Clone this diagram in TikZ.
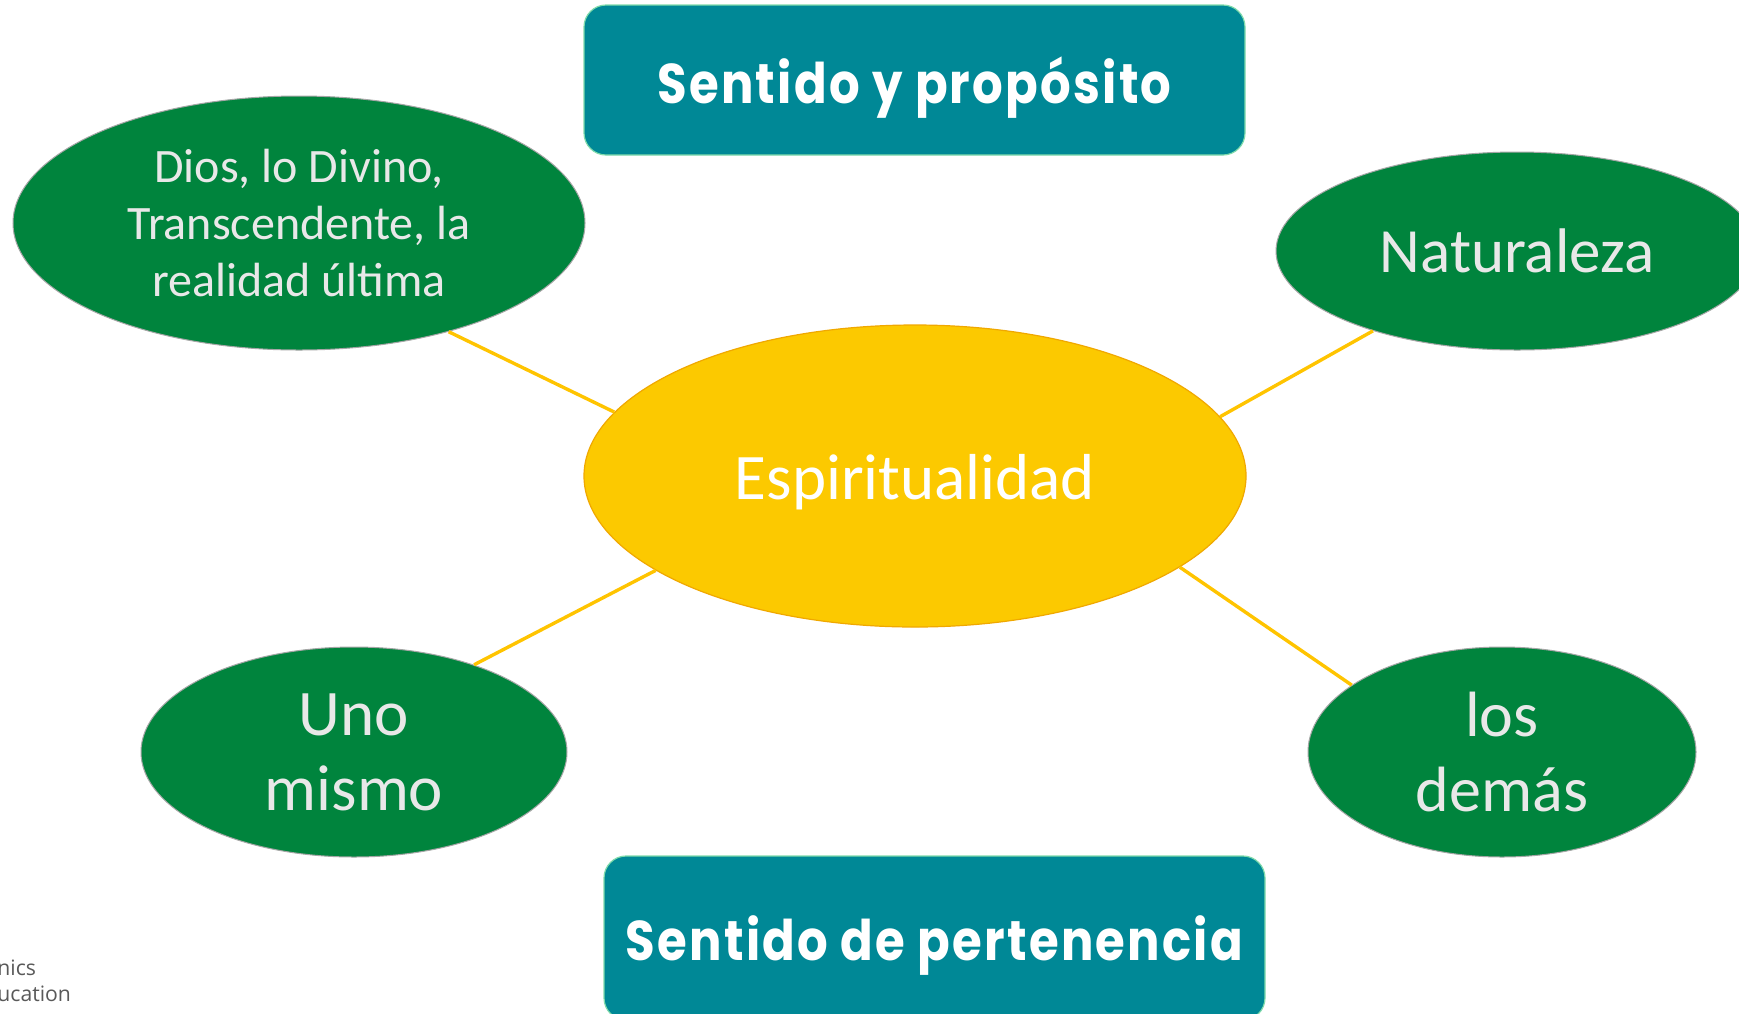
\documentclass[tikz,border=0pt]{standalone}
\usepackage{fontspec}
\setmainfont{Carlito}
\newfontfamily\boxfont[FakeStretch=0.86,LetterSpace=4]{Poppins}
\newfontfamily\smallfont{Open Sans}
\usetikzlibrary{shapes.geometric}
\definecolor{tealbox}{HTML}{008896}
\definecolor{greenell}{HTML}{00843D}
\definecolor{yellowell}{HTML}{FCC900}
\definecolor{yellowline}{HTML}{FFC400}
\definecolor{orangeedge}{HTML}{F0A800}
\definecolor{lighttext}{HTML}{E8E8E8}
\tikzset{
  topicbox/.style={rectangle, rounded corners=11pt, fill=tealbox, draw=tealbox!60!green!50!white, line width=0.6pt,
    minimum width=330.5pt, inner sep=0pt, text=white, font=\boxfont\bfseries\fontsize{28}{34}\selectfont},
  greenell/.style={ellipse, fill=greenell, draw=gray!70, line width=0.5pt, inner sep=0pt,
    text=lighttext, align=center},
  centerell/.style={ellipse, fill=yellowell, draw=orangeedge, line width=0.6pt, inner sep=0pt,
    minimum width=331pt, minimum height=151pt},
  centertext/.style={inner sep=0pt, text=white, font=\fontsize{32.5}{38}\selectfont},
  boxtext/.style={inner sep=0pt, text=white, font=\boxfont\bfseries\fontsize{28}{34}\selectfont},
  link/.style={draw=yellowline, line width=1.7pt},
  cornertext/.style={inner sep=0pt, anchor=base west, text=black!65, font=\smallfont\fontsize{10.6}{12}\selectfont}
}
\begin{document}
\begin{tikzpicture}[x=0.5pt,y=-0.5pt]
\useasboundingbox (0,0) rectangle (1739,1013);
\clip (0,0) rectangle (1739,1013);
\fill[white] (0,0) rectangle (1739,1013);

\node[centerell] (esp) at (915,476) {};
\node[centertext] (esplabel) at (915,482) {Espiritualidad};

\node[greenell, minimum width=286pt, minimum height=127pt, font=\fontsize{24}{28.5}\selectfont]
  (dios) at (299,223) {Dios, lo Divino,\\Transcendente, la\\realidad última};
\node[greenell, minimum width=241pt, minimum height=99pt, font=\fontsize{31.5}{36}\selectfont]
  (nat) at (1517,251) {Naturaleza};
\node[greenell, minimum width=213pt, minimum height=105pt, font=\fontsize{32.5}{37.5}\selectfont]
  (uno) at (354,752) {Uno\\mismo};
\node[greenell, minimum width=194pt, minimum height=105pt, font=\fontsize{32}{37.5}\selectfont]
  (dem) at (1502,752) {los\\demás};

\node[topicbox, minimum height=75pt] (prop) at (914.5,80) {};
\node[boxtext] (proplabel) at (914.5,88) {Sentido y propósito};
\node[topicbox, minimum height=82pt] (pert) at (934.5,938) {};
\node[boxtext] (pertlabel) at (934.5,946) {Sentido de pertenencia};

\draw[link] (dios.-36.6) -- (esp.168.8);
\draw[link] (nat.209.5) -- (esp.11.1);
\draw[link] (uno.36.6) -- (esp.200.2);
\draw[link] (dem.156.3) -- (esp.-19.1);

\node[cornertext] (t1) at (-3,975) {nics};
\node[cornertext] (t2) at (-3,1001) {ucation};
\end{tikzpicture}
\end{document}
